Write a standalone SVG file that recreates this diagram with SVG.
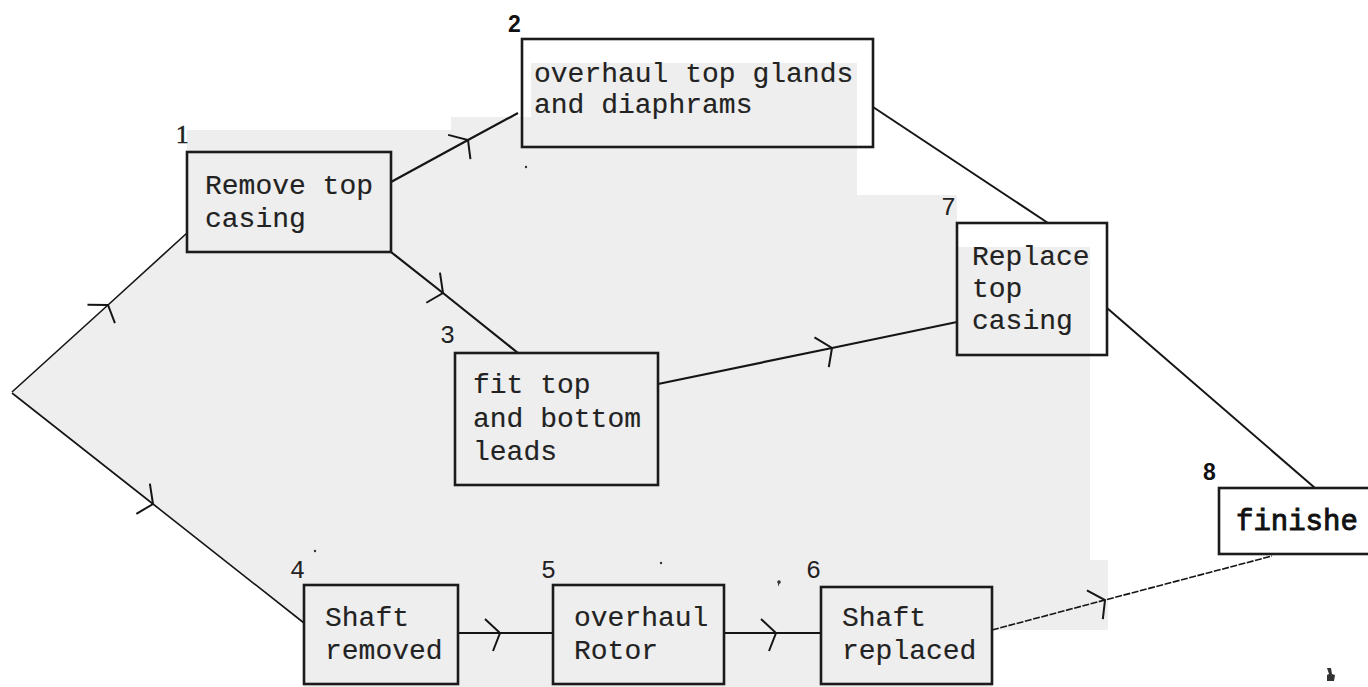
<svg xmlns="http://www.w3.org/2000/svg" width="1368" height="687" viewBox="0 0 1368 687">
  <style>
    .box { fill: none; stroke: #1b1b1b; stroke-width: 2.6; }
    .lbl { font-family: "Liberation Mono", "DejaVu Sans Mono", monospace; font-size: 28px; fill: #222; stroke: #222; stroke-width: 0.15; }
    .num { font-family: "Liberation Mono", "DejaVu Sans Mono", monospace; font-size: 25px; fill: #222; }
    .numb { font-family: "Liberation Sans", Arial, sans-serif; font-size: 23px; font-weight: bold; fill: #111; }
    .nums { font-family: "Liberation Serif", "Times New Roman", serif; font-size: 25px; fill: #222; stroke: #222; stroke-width: 0.6; }
    .fin { font-family: "Liberation Mono", "DejaVu Sans Mono", monospace; font-size: 29px; fill: #111; stroke: #111; stroke-width: 0.9; }
    .edge { fill: none; stroke: #151515; stroke-width: 2.2; marker-mid: url(#chev); }
    .edge.thin { stroke-width: 1.6; }
    .plain { fill: none; stroke: #151515; stroke-width: 2; }
    .speck { fill: #333; }
  </style>
  <defs>
    <!-- open hand-drawn chevron placed at the middle vertex of each flow line -->
    <marker id="chev" markerUnits="userSpaceOnUse" markerWidth="50" markerHeight="50" refX="0" refY="0" viewBox="-25 -25 50 50" orient="auto" overflow="visible">
      <path d="M-15,-14 L0,0 L-7,18" fill="none" stroke="#151515" stroke-width="2"/>
    </marker>
  </defs>

  <rect width="1368" height="687" fill="#ffffff"/>

  <!-- light grey pasted-paper area behind the network -->
  <path d="M12,392 L187,233 L187,130 L451,130 L451,117 L531,117 L531,63 L857,63 L857,195 L957,195 L957,247 L1090,247 L1090,560 L1108,560 L1108,630 L992,630 L992,687 L304,687 L304,623 Z" fill="#eeeeee"/>

  <!-- connectors -->
  <g id="connectors">
    <path class="edge thin" d="M12,392 L108,305 L187,233"/>
    <path class="edge thin" d="M12,393 L153,504 L304,623"/>
    <path class="edge" d="M391,182 L468,140 L518,113"/>
    <path class="edge" d="M391,252 L443,293 L518,353"/>
    <path class="edge" d="M658,384 L832,348 L957,322"/>
    <path class="plain" d="M873,107 L1048,223"/>
    <path class="plain" d="M1107,308 L1315,488"/>
    <path class="edge" d="M458,633 L500,633 L553,633"/>
    <path class="edge" d="M724,633 L776,633 L821,633"/>
    <path class="edge thin" d="M992,630 L1105,600 L1272,556" stroke-dasharray="7 1.5"/>
  </g>

  <g id="node1">
    <rect class="box" x="187" y="152" width="204" height="100"/>
    <text class="nums" x="176" y="143">1</text>
    <text class="lbl" x="205" y="194">Remove top</text>
    <text class="lbl" x="205" y="227">casing</text>
  </g>

  <g id="node2">
    <rect class="box" x="522" y="39" width="351" height="108"/>
    <text class="numb" x="508" y="32">2</text>
    <text class="lbl" x="534" y="82">overhaul top glands</text>
    <text class="lbl" x="534" y="113">and diaphrams</text>
  </g>

  <g id="node3">
    <rect class="box" x="455" y="353" width="203" height="132"/>
    <text class="num" x="440" y="343">3</text>
    <text class="lbl" x="473" y="393">fit top</text>
    <text class="lbl" x="473" y="427">and bottom</text>
    <text class="lbl" x="473" y="460">leads</text>
  </g>

  <g id="node4">
    <rect class="box" x="304" y="585" width="154" height="99"/>
    <text class="num" x="290" y="578">4</text>
    <text class="lbl" x="325" y="626">Shaft</text>
    <text class="lbl" x="325" y="659">removed</text>
  </g>

  <g id="node5">
    <rect class="box" x="553" y="585" width="171" height="99"/>
    <text class="num" x="541" y="578">5</text>
    <text class="lbl" x="574" y="626">overhaul</text>
    <text class="lbl" x="574" y="659">Rotor</text>
  </g>

  <g id="node6">
    <rect class="box" x="821" y="587" width="171" height="97"/>
    <text class="num" x="806" y="578">6</text>
    <text class="lbl" x="842" y="626">Shaft</text>
    <text class="lbl" x="842" y="659">replaced</text>
  </g>

  <g id="node7">
    <rect class="box" x="957" y="223" width="150" height="132"/>
    <text class="num" x="941" y="215">7</text>
    <text class="lbl" x="972" y="265">Replace</text>
    <text class="lbl" x="972" y="297">top</text>
    <text class="lbl" x="972" y="329">casing</text>
  </g>

  <g id="node8">
    <rect class="box" x="1219" y="488" width="160" height="66"/>
    <text class="numb" x="1203" y="480">8</text>
    <text class="fin" x="1236" y="530">finishe</text>
  </g>

  <!-- small ink specks -->
  <g id="specks">
    <circle class="speck" cx="779" cy="582" r="1.8"/>
    <path class="speck" d="M778,582 l2,0 l-2,5 z"/>
    <circle class="speck" cx="315" cy="551" r="1.2"/>
    <circle class="speck" cx="661" cy="563" r="1.2"/>
    <circle class="speck" cx="526" cy="167" r="1.2"/>
    <path class="speck" d="M1327,668 l4,0 l1,6 l3,1 l-1,6 l-7,0 l0,-6 l2,-1 z"/>
  </g>
</svg>
